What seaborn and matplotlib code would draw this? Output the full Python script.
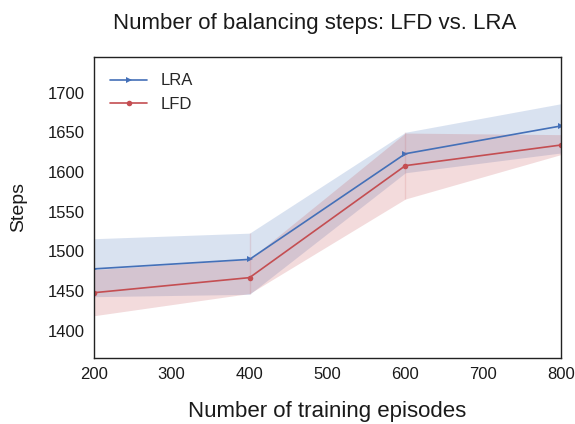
import seaborn as sns
import matplotlib.pyplot as plt
import pandas as pd

sns.set_style("white")
plt.rcParams['font.family'] = ['Liberation Sans', 'DejaVu Sans']

episodes = [200, 400, 600, 800]
lra_mean = [1478, 1490, 1623, 1658]
lra_low = [1443, 1446, 1599, 1624]
lra_high = [1516, 1523, 1650, 1686]
lfd_mean = [1448, 1467, 1608, 1634]
lfd_low = [1419, 1447, 1566, 1622]
lfd_high = [1477, 1490, 1649, 1647]

df = pd.DataFrame({
    'Episodes': episodes * 2,
    'Steps': lra_mean + lfd_mean,
    'Method': ['LRA'] * 4 + ['LFD'] * 4,
})

blue = '#4470b8'
red = '#c44e52'

fig, ax = plt.subplots(figsize=(5.75, 4.24), dpi=100)
sns.lineplot(data=df, x='Episodes', y='Steps', hue='Method', style='Method',
             palette={'LRA': blue, 'LFD': red},
             markers={'LRA': '>', 'LFD': 'o'}, dashes=False,
             markersize=4, markeredgewidth=0, linewidth=1.2, ax=ax)
ax.fill_between(episodes, lra_low, lra_high, color=blue, alpha=0.2, linewidth=0)
ax.fill_between(episodes, lfd_low, lfd_high, color=red, alpha=0.2, linewidth=0)
# faint band edges at the inner points
for x, lo, hi, c in [(400, lfd_low[1], lra_high[1], red), (600, lfd_low[2], lra_high[2], red)]:
    ax.vlines(x, lo, hi, color=c, alpha=0.15, linewidth=1)

ax.set_xlim(200, 800)
ax.set_ylim(1366, 1745)
ax.set_yticks([1400, 1450, 1500, 1550, 1600, 1650, 1700])
ax.tick_params(labelsize=12, pad=3, labelcolor='#1a1a1a')
ax.set_xlabel('Number of training episodes', fontsize=16, labelpad=14, color='#1a1a1a')
ax.set_ylabel('Steps', fontsize=14, labelpad=15, color='#1a1a1a')
ax.set_title('Number of balancing steps: LFD vs. LRA', fontsize=16, pad=20,
             color='#1a1a1a', x=0.473)
for s in ax.spines.values():
    s.set_color('#222222')
    s.set_linewidth(1)

leg = ax.legend(frameon=False, fontsize=12, loc='upper left', handlelength=2.2,
                borderaxespad=0.6)

fig.subplots_adjust(left=0.163, right=0.976, top=0.866, bottom=0.156)
fig.savefig('out.png', dpi=100)
